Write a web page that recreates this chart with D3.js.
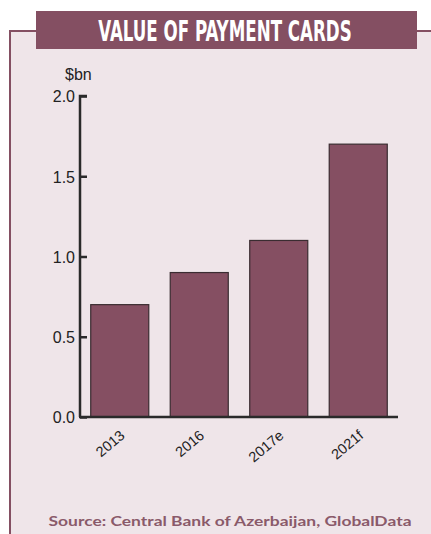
<!DOCTYPE html>
<html><head><meta charset="utf-8">
<script src="https://cdn.jsdelivr.net/npm/d3@7"></script>
<style>body{margin:0;background:#fff}svg{display:block}</style>
</head><body>
<script>
const categories = ["2013","2016","2017e","2021f"];
const values = [0.7,0.9,1.1,1.7];
const yTicks = [0,0.5,1.0,1.5,2.0];
const title = "VALUE OF PAYMENT CARDS";
const unit = "$bn";
const source = "Source: Central Bank of Azerbaijan, GlobalData";

const W=431,H=534;
const maroon="#844f62";
const svg=d3.select("body").append("svg").attr("width",W).attr("height",H);
// panel
svg.append("rect").attr("x",10).attr("y",30).attr("width",W-10).attr("height",H-30).attr("fill","#efe5e9");
svg.append("path").attr("d",`M10,${H} V31 H${W}`).attr("fill","none").attr("stroke",maroon).attr("stroke-width",2);
// title box
svg.append("rect").attr("x",36).attr("y",11).attr("width",381).attr("height",38).attr("fill",maroon);
svg.append("text").attr("transform","translate(225,41) scale(0.64,1)").attr("text-anchor","middle")
  .attr("font-family","'Liberation Sans Narrow','DejaVu Sans Condensed',sans-serif").attr("font-weight","bold")
  .attr("font-size",29).attr("fill","#fff").text(title);

const x=d3.scaleBand().domain(categories).range([80,398]).paddingInner(0.27).paddingOuter(0.135);
const y=d3.scaleLinear().domain([0,2]).range([417,96]);

const g=svg.append("g");
g.selectAll("rect.bar").data(values).join("rect").attr("class","bar")
  .attr("x",(d,i)=>x(categories[i])).attr("width",x.bandwidth())
  .attr("y",d=>y(d)).attr("height",d=>y(0)-y(d))
  .attr("fill","#854f62").attr("stroke","#3a2c31").attr("stroke-width",1.2);

const font="'Liberation Sans',Arial,sans-serif";
const ya=svg.append("g").attr("transform","translate(80,0)")
  .call(d3.axisRight(y).tickValues(yTicks).tickFormat(d3.format(".1f")).tickSize(7));
ya.select(".domain").attr("d","M7,96H0V417").attr("stroke","#2a2a2a").attr("stroke-width",2.5);
ya.selectAll(".tick line").attr("stroke","#2a2a2a").attr("stroke-width",2.5);
ya.selectAll(".tick text").attr("x",-5).attr("dy","0.36em").attr("text-anchor","end").attr("font-family",font).attr("font-size",16).attr("fill","#222");

svg.append("line").attr("x1",79).attr("x2",398).attr("y1",417).attr("y2",417).attr("stroke","#2a2a2a").attr("stroke-width",2.5);

const xa=svg.append("g").attr("transform","translate(0,417)")
  .call(d3.axisBottom(x).tickSize(0));
xa.select(".domain").remove();
xa.selectAll(".tick text").attr("font-family",font).attr("font-size",14.5).attr("fill","#222")
  .attr("text-anchor","end").attr("dy",0).attr("y",0)
  .attr("transform","translate(6,20) rotate(-40)");

svg.append("text").attr("x",65).attr("y",80).attr("font-family",font).attr("font-size",16).attr("fill","#222").text(unit);

svg.append("text").attr("x",230).attr("y",526).attr("text-anchor","middle")
  .attr("font-family","Lato,sans-serif").attr("font-weight","bold").attr("font-size",14).attr("fill","#8a5a6a")
  .attr("textLength",363).attr("lengthAdjust","spacingAndGlyphs").text(source);
</script>
</body></html>
